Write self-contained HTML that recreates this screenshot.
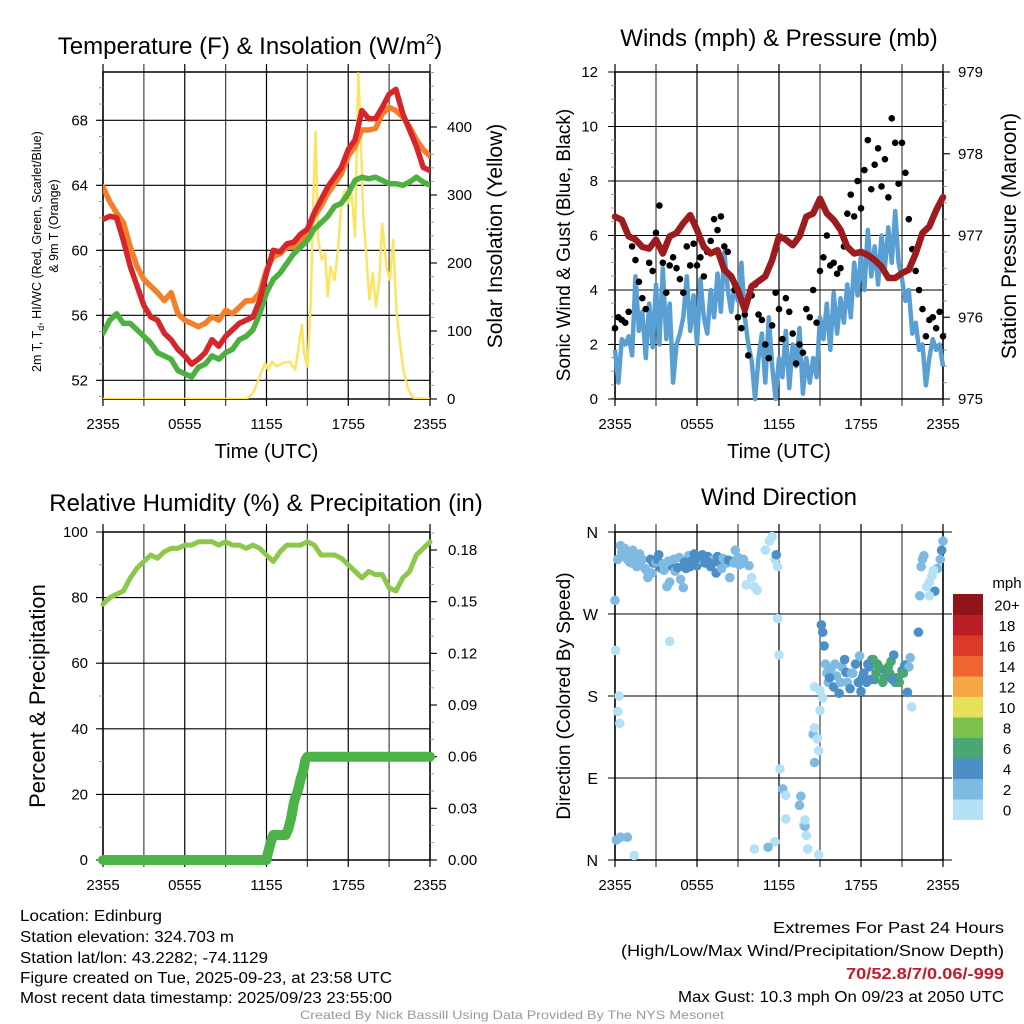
<!DOCTYPE html>
<html><head><meta charset="utf-8"><title>Mesonet Meteogram</title>
<style>
html,body{margin:0;padding:0;background:#fff;}
svg{display:block;font-family:"Liberation Sans",Arial,sans-serif;}
</style></head>
<body>
<svg id="chart" width="1024" height="1024" viewBox="0 0 1024 1024" xmlns="http://www.w3.org/2000/svg">
<rect x="0" y="0" width="1024" height="1024" fill="#fff"/>
<g id="layer"></g>
</svg>
<script>
// ===== DATA (half-hour steps from 2355 UTC) =====
const xTickLabels = ["2355","0555","1155","1755","2355"];
const tempTicks = [52,56,60,64,68];
const solarTicks = [0,100,200,300,400];
const windTicks = [0,2,4,6,8,10,12];
const presTicks = [975,976,977,978,979];
const rhTicks = [0,20,40,60,80,100];
const precipTicks = ["0.00","0.03","0.06","0.09","0.12","0.15","0.18"];
const dirLabels = ["N","E","S","W","N"];
const legendLabels = ["0","2","4","6","8","10","12","14","16","18","20+"];
const legendColors = ["#b5e1f7","#7fbae3","#4b8fc6","#4aa773","#7cc24a","#e6e05a","#f5a845","#ef6530","#db3a2b","#bb1e25","#8f1519"];

const tempRed = [61.9,62.1,62.0,60.6,59.0,57.8,56.6,55.9,55.7,54.9,54.5,53.9,53.5,53.0,53.3,53.7,54.5,54.1,54.7,55.1,55.5,55.7,55.9,56.9,58.6,60.0,59.9,60.4,60.5,61.0,61.3,62.3,63.1,63.9,64.5,65.1,66.2,66.8,68.6,68.1,68.1,68.8,69.6,69.9,68.4,67.4,66.4,65.1,64.9];
const tempOrange = [63.9,63.0,62.3,61.7,60.2,59.0,58.2,57.8,57.4,56.9,57.4,56.1,55.7,55.5,55.3,55.5,55.9,55.7,56.3,56.1,56.5,56.9,56.9,57.4,58.8,59.6,59.8,60.2,60.2,60.6,61.1,62.1,62.7,63.5,64.1,64.7,65.8,66.4,67.4,67.4,67.5,68.4,68.8,68.6,68.2,67.6,66.8,66.2,65.8];
const tempGreen = [54.9,55.7,56.1,55.5,55.5,55.1,54.7,54.3,53.7,53.5,53.3,52.6,52.4,52.2,52.8,53.0,53.5,53.3,53.7,53.9,54.5,54.7,55.1,56.1,57.4,58.2,58.6,59.2,59.8,60.2,60.6,61.3,61.7,62.1,62.7,62.9,63.5,64.3,64.5,64.4,64.5,64.3,64.1,64.1,64.0,64.2,64.5,64.2,64.0];
const solarTimes = [0,10.54,11.03,11.4,11.9,12.1,12.4,12.75,13.2,13.7,14.1,14.3,14.6,14.75,15.0,15.25,15.45,15.6,15.8,16.05,16.3,16.5,16.7,17.0,17.27,17.5,17.75,17.98,18.25,18.5,18.74,18.9,19.1,19.35,19.55,19.8,20.04,20.28,20.5,20.8,21.06,21.3,21.55,21.8,22.04,22.4,22.8,24];
const solarVals = [0,0,9,28,53,43,55,48,53,55,43,68,109,68,48,141,302,393,234,205,214,151,195,175,224,288,307,288,302,239,479,400,273,205,146,185,136,175,258,195,175,234,126,82,43,14,1,0];

const pressure = [977.23,977.19,976.99,976.95,976.86,976.84,976.95,976.78,976.99,977.03,977.15,977.25,977.07,976.86,976.78,976.82,976.58,976.50,976.33,976.09,976.38,976.44,976.50,976.70,976.99,976.95,976.88,976.99,977.23,977.27,977.45,977.27,977.19,977.07,976.86,976.78,976.80,976.76,976.70,976.62,976.48,976.48,976.54,976.58,976.78,977.03,977.11,977.31,977.47];
// quarter-hour steps
const windSpeed = [1.8,0.6,2.2,2.0,2.3,1.6,4.5,2.5,3.2,1.5,3.5,1.9,4.2,2.0,4.8,2.2,3.5,0.6,2.0,2.4,3.0,4.5,2.5,3.8,2.0,4.4,3.0,2.4,4.0,3.0,4.6,3.2,5.4,4.0,3.2,4.2,3.6,5.0,3.0,2.0,1.4,0.0,1.5,2.4,0.6,3.0,1.2,0.0,1.5,0.8,2.5,0.4,2.0,1.2,2.6,0.2,1.5,0.6,1.5,0.8,3.0,2.2,3.5,1.8,3.9,2.4,3.7,2.8,4.2,3.0,5.0,3.8,5.3,4.0,6.2,4.5,5.6,4.2,6.0,4.8,6.3,5.0,6.9,5.0,4.4,3.6,4.0,2.4,2.8,1.8,2.0,0.5,1.5,2.2,1.8,2.0,1.2];
const windGust = [2.6,3.0,2.9,2.8,3.2,5.6,5.1,4.3,3.7,3.3,5.0,4.7,6.1,7.1,5.0,3.9,4.9,5.2,4.8,4.4,3.9,5.6,4.9,5.7,4.9,5.2,4.5,5.4,5.8,6.6,6.2,6.7,5.6,5.4,4.5,4.0,3.0,2.6,3.1,1.6,3.8,4.2,3.1,2.9,2.0,1.5,2.7,3.9,3.3,2.2,3.7,3.2,2.4,1.3,2.0,1.7,3.3,3.0,4.0,2.8,4.7,5.2,6.0,4.9,5.0,4.6,4.8,5.6,6.8,7.5,6.7,8.0,7.0,8.4,9.5,7.7,8.6,9.2,7.8,8.8,7.4,10.3,9.4,7.9,9.4,8.3,6.6,5.5,4.7,4.0,3.3,2.3,2.9,3.0,2.6,3.2,2.3];

const rh = [78,80,81,82,86,89,91,93,92,94,95,95,96,96,97,97,97,96,97,96,96,95,96,95,93,91,94,96,96,96,97,96,93,93,93,92,90,88,86,88,87,87,83,82,86,88,93,95,97];
const precipTimes = [0,12.0,12.1,12.3,12.5,13.4,13.6,13.8,14.0,14.1,14.3,14.5,14.7,14.85,15.0,24];
const precipVals = [0,0,0.004,0.010,0.0145,0.0145,0.018,0.024,0.033,0.036,0.040,0.047,0.052,0.058,0.060,0.060];

const dirTimes = [0,0.2,0.4,0.6,0.8,1,1.1,1.3,1.5,1.7,1.9,2.0,2.2,2.4,2.6,2.8,3.0,3.2,3.4,3.6,3.8,4.0,4.2,4.4,4.6,4.8,5.0,5.2,5.4,5.6,5.8,6.0,6.2,6.4,6.6,6.8,7.0,7.2,7.4,7.6,7.8,8.0,8.2,8.4,8.6,8.8,9.0,9.2,9.4,9.6,9.8,10.0,10.2,10.4,11.0,11.3,11.5,11.7,11.8,11.9,0.05,0.2,0.3,0.35,0.1,0.4,0.9,1.4,4.0,11.9,12.0,12.07,12.27,12.5,12.5,13.5,13.6,13.8,13.9,13.9,14.0,14.1,14.5,14.6,14.8,14.9,14.6,14.6,15.0,15.2,11.7,11.2,10.2,14.9,15.0,15.1,15.2,15.3,15.4,15.5,15.6,15.8,16.0,16.1,16.2,16.4,16.6,16.8,17.0,17.2,17.4,17.6,17.8,18.0,18.2,18.4,18.6,18.8,18.9,19.0,19.2,19.4,19.6,19.8,20.0,20.2,20.4,20.6,20.8,21.0,21.2,21.4,21.5,21.6,21.7,22.2,22.3,22.4,22.5,22.6,22.8,23.0,23.2,23.4,23.6,23.8,23.9,24,23.0,23.3,19.3,19.7,20.1,20.5,18.7,17.9,16.9,15.7,0.5,0.7,0.9,1.2,1.6,1.8,2.3,2.7,3.1,3.5,3.9,4.3,4.7,5.1,5.5,5.9,6.3,6.7,7.1,7.5,7.9,8.3,8.7,9.1,16.5,17.3,18.1,18.5,19.1,20.3,21.1];
const dirDeg = [285,330,345,340,332,335,327,340,333,325,328,330,320,310,330,326,327,335,320,318,300,305,322,317,321,308,299,320,334,328,336,323,330,335,326,333,322,330,315,327,320,330,326,310,328,340,332,325,330,302,323,310,300,296,340,350,355,330,335,322,230,163,180,150,22,25,25,5,240,265,225,100,78,71,45,60,70,38,37,44,27,12,138,145,133,120,107,190,164,178,20,14,12,6,186,258,250,235,215,205,195,210,190,215,202,183,212,220,195,188,205,215,195,185,205,195,212,220,220,198,215,210,195,208,212,218,225,200,195,208,214,184,212,222,168,250,290,322,330,334,300,305,312,295,320,330,340,350,290,318,212,200,205,195,198,224,206,200,338,342,330,326,322,336,318,315,330,325,328,330,332,327,322,330,334,328,325,333,331,329,326,324,195,205,200,215,205,198,205];
const dirSpeed = [2,3,3,2,3,2,4,3,3,2,3,3,2,2,4,4,3,4,4,3,2,2,4,2,4,2,2,4,3,4,4,4,3,4,4,4,4,3,4,4,3,4,2,2,2,2,2,2,3,1,2,1,1,0,0,0,0,1,4,1,0,1,1,0,2,2,2,0,0,0,0,0,2,0,0,2,2,1,3,1,0,0,2,0,1,0,3,0,0,0,0,2,0,0,1,4,4,4,2,2,2,2,4,2,2,4,2,4,2,4,2,4,4,4,4,4,4,4,6,6,6,6,6,4,6,6,4,6,6,4,4,4,2,2,0,4,2,2,2,2,0,0,1,4,2,2,4,2,0,0,6,6,6,6,4,2,4,4,2,2,2,2,2,2,2,2,4,2,2,3,2,4,4,4,4,4,4,4,2,4,2,2,2,2,4,4,6,4,6];

// ===== helpers =====
const NS = "http://www.w3.org/2000/svg";
const layer = document.getElementById("layer");
function mk(tag, attrs, parent){
  const e = document.createElementNS(NS, tag);
  for (const k in attrs) e.setAttribute(k, attrs[k]);
  (parent||layer).appendChild(e);
  return e;
}
function txt(s, x, y, size, opts, parent){
  opts = opts||{};
  const e = mk("text", {x:x, y:y, "font-size":size, fill:opts.fill||"#000", "text-anchor":opts.anchor||"start"}, parent);
  if (opts.rot) e.setAttribute("transform", "rotate(-90 "+x+" "+y+")");
  if (opts.weight) e.setAttribute("font-weight", opts.weight);
  if (opts.len) { e.setAttribute("textLength", opts.len); e.setAttribute("lengthAdjust","spacingAndGlyphs"); }
  e.textContent = s;
  return e;
}
function lin(d0,d1,r0,r1){ return v => r0 + (v-d0)/(d1-d0)*(r1-r0); }
function pathFrom(xs, ys){ let d=""; for(let i=0;i<xs.length;i++){ d += (i?"L":"M")+xs[i].toFixed(1)+" "+ys[i].toFixed(1);} return d; }

function panelFrame(g, L, R, T, B, nameBase){
  const xs = lin(0,24,L,R);
  for (let h=0; h<=24; h+=3){
    const l = mk("line",{x1:xs(h),x2:xs(h),y1:T-8,y2:B+7,stroke:(h%6==0?"#000":"#444"),"stroke-width":1.2},g);
    
    
  }
  const f = mk("rect",{x:L,y:T,width:R-L,height:B-T,fill:"none",stroke:"#000","stroke-width":1.5},g);
  
  
  xTickLabels.forEach((lab,i)=>{
    const t = txt(lab, xs(i*6), B+30, 15, {anchor:"middle"}, g);
    
    
  });
  return xs;
}
function hGrid(g, L, R, y, ticksOut){
  const l = mk("line",{x1:L-7,x2:R+(ticksOut?7:0),y1:y,y2:y,stroke:"#000","stroke-width":1.1},g);
  
  
}
function minorTicks(g, x, y0, y1, step, dir){
  for (let y=y0; y<=y1+0.1; y+=step){
    mk("line",{x1:x,x2:x+dir*4,y1:y,y2:y,stroke:"#999","stroke-width":1},g);
  }
}

// ===== Panel 1: Temperature & Insolation =====
(function(){
  const g = mk("g",{});
  
  
  const L=103,R=430,T=72,B=399;
  const t = txt("Temperature (F) & Insolation (W/m", 250, 54, 24, {anchor:"middle"}, g);
  
  
  const sup = mk("tspan",{dy:-10,"font-size":15},t); sup.textContent="2";
  const cl = mk("tspan",{dy:10},t); cl.textContent=")";
  const xs = panelFrame(g,L,R,T,B,"temperature");
  const ys = lin(68,52,120.3,380.3);
  const ysol = lin(0,400,399,127);
  minorTicks(g,L,ys(70),ys(51),16.25,-1);
  minorTicks(g,R,ysol(480),B,13.6,1);
  tempTicks.forEach(v=>{
    hGrid(g,L,R,ys(v),false);
    const lb = txt(String(v), L-15, ys(v)+5, 15, {anchor:"end"}, g);
    
    
  });
  solarTicks.forEach(v=>{
    mk("line",{x1:R,x2:R+7,y1:ysol(v),y2:ysol(v),stroke:"#000","stroke-width":1.1},g);
    const lb = txt(String(v), R+17, ysol(v)+5, 15, {}, g);
    
    
  });
  const clip = mk("clipPath",{id:"c1"},g); mk("rect",{x:L,y:T-2,width:R-L,height:B-T+2},clip);
  const sl = mk("path",{d:pathFrom(solarTimes.map(xs), solarVals.map(v=>ysol(v))),fill:"none",stroke:"#fde35e","stroke-width":2.4,"stroke-linejoin":"round","clip-path":"url(#c1)"},g);
  
  
  const series = [[tempOrange,"#f47f2a","orange-9m-temp-line"],[tempGreen,"#4cb140","green-dewpoint-line"],[tempRed,"#d7262b","red-2m-temp-line"]];
  series.forEach(s=>{
    const p = mk("path",{d:pathFrom(s[0].map((v,i)=>xs(i*0.5)), s[0].map(ys)),fill:"none",stroke:s[1],"stroke-width":5.5,"stroke-linejoin":"round","stroke-linecap":"round","clip-path":"url(#c1)"},g);
    
    
  });
  const a1 = txt("Time (UTC)", (L+R)/2, 458, 20, {anchor:"middle"}, g);
  
  
  const a2 = txt("2m T, T", 0, 0, 12.5, {}, g);
  a2.setAttribute("transform","translate(41 372) rotate(-90)");
  const sb = mk("tspan",{dy:3,"font-size":9},a2); sb.textContent="d";
  const rest = mk("tspan",{dy:-3},a2); rest.textContent=", HI/WC (Red, Green, Scarlet/Blue)";
  
  
  const a3 = txt("& 9m T (Orange)", 58, 226, 12.5, {anchor:"middle",rot:true}, g);
  
  
  const a4 = txt("Solar Insolation (Yellow)", 502, 236, 21, {anchor:"middle",rot:true}, g);
  
  
})();

// ===== Panel 2: Winds & Pressure =====
(function(){
  const g = mk("g",{});
  
  
  const L=615,R=943,T=72,B=399;
  const t = txt("Winds (mph) & Pressure (mb)", 779, 46, 24, {anchor:"middle"}, g);
  
  
  const xs = panelFrame(g,L,R,T,B,"winds");
  const yw = lin(0,12,B,T);
  const yp = lin(975,979,B,T);
  minorTicks(g,L,T,B,13.6,-1);
  minorTicks(g,R,T,B,16.35,1);
  windTicks.forEach(v=>{
    hGrid(g,L,R,yw(v),false);
    const lb = txt(String(v), L-17, yw(v)+5, 15, {anchor:"end"}, g);
    
    
  });
  presTicks.forEach(v=>{
    mk("line",{x1:R,x2:R+7,y1:yp(v),y2:yp(v),stroke:"#000","stroke-width":1.1},g);
    const lb = txt(String(v), R+15, yp(v)+5, 15, {}, g);
    
    
  });
  const wl = mk("path",{d:pathFrom(windSpeed.map((v,i)=>xs(i*0.25)), windSpeed.map(yw)),fill:"none",stroke:"#5a9fd4","stroke-width":4.5,"stroke-linejoin":"round"},g);
  
  
  windGust.forEach((v,i)=>{
    const c = mk("circle",{cx:xs(i*0.25),cy:yw(v),r:3.3,fill:"#000"},g);
    
    
  });
  const pl = mk("path",{d:pathFrom(pressure.map((v,i)=>xs(i*0.5)), pressure.map(yp)),fill:"none",stroke:"#9b1b1e","stroke-width":6.5,"stroke-linejoin":"round","stroke-linecap":"round"},g);
  
  
  const a1 = txt("Time (UTC)", (L+R)/2, 458, 20, {anchor:"middle"}, g);
  
  
  const a2 = txt("Sonic Wind & Gust (Blue, Black)", 570, 245, 19, {anchor:"middle",rot:true}, g);
  
  
  const a3 = txt("Station Pressure (Maroon)", 1016, 236, 21, {anchor:"middle",rot:true}, g);
  
  
})();

// ===== Panel 3: RH & Precip =====
(function(){
  const g = mk("g",{});
  
  
  const L=103,R=430,T=532,B=860;
  const t = txt("Relative Humidity (%) & Precipitation (in)", 266, 511, 24, {anchor:"middle"}, g);
  
  
  const xs = panelFrame(g,L,R,T,B,"humidity");
  const yr = lin(0,100,B,T);
  const ypr = lin(0,0.18,B,550);
  minorTicks(g,L,T,B,32.8,-1);
  minorTicks(g,R,T+1,B,17.2,1);
  rhTicks.forEach(v=>{
    hGrid(g,L,R,yr(v),false);
    const lb = txt(String(v), L-15, yr(v)+5, 15, {anchor:"end"}, g);
    
    
  });
  precipTicks.forEach(s=>{
    const v = parseFloat(s);
    mk("line",{x1:R,x2:R+7,y1:ypr(v),y2:ypr(v),stroke:"#000","stroke-width":1.1},g);
    const lb = txt(s, R+18, ypr(v)+5, 15, {}, g);
    
    
  });
  const rl = mk("path",{d:pathFrom(rh.map((v,i)=>xs(i*0.5)), rh.map(yr)),fill:"none",stroke:"#8cc84b","stroke-width":5,"stroke-linejoin":"round","stroke-linecap":"round"},g);
  
  
  const pp = mk("path",{d:pathFrom(precipTimes.map(xs), precipVals.map(ypr)),fill:"none",stroke:"#4cb347","stroke-width":10,"stroke-linejoin":"round","stroke-linecap":"round"},g);
  
  
  const a2 = txt("Percent & Precipitation", 45, 696, 22, {anchor:"middle",rot:true}, g);
  
  
})();

// ===== Panel 4: Wind Direction =====
(function(){
  const g = mk("g",{});
  
  
  const L=615,R=943,T=532,B=860;
  const t = txt("Wind Direction", 779, 505, 24, {anchor:"middle"}, g);
  
  
  const xs = panelFrame(g,L,R,T,B,"wind-direction");
  const yd = lin(0,360,B,T);
  dirLabels.forEach((lab,i)=>{
    const y = yd(i*90);
    const l = mk("line",{x1:L-7,x2:R+9,y1:y,y2:y,stroke:"#000","stroke-width":1.1},g);
    
    
    const lb = txt(lab, L-17, y+6, 16, {anchor:"end"}, g);
    
    
  });
  dirTimes.forEach((h,i)=>{
    const ci = Math.min(10, Math.floor(dirSpeed[i]/2));
    const c = mk("circle",{cx:xs(h),cy:yd(dirDeg[i]),r:4.8,fill:legendColors[ci]},g);
    
    
  });
  const a2 = txt("Direction (Colored By Speed)", 570, 696, 19, {anchor:"middle",rot:true}, g);
  
  
  const lg = mk("g",{},g);
  
  
  const mt = txt("mph", 1007, 588, 15, {anchor:"middle"}, lg);
  
  
  const top=594, bh=20.5;
  legendLabels.forEach((lab,i)=>{
    const k = legendLabels.length-1-i;
    const y = top + k*bh;
    const r = mk("rect",{x:953,y:y,width:30,height:bh+0.5,fill:legendColors[i]},lg);
    
    
    const tl = txt(lab, 1007, y+bh/2+6, 15, {anchor:"middle"}, lg);
    
    
  });
})();

// ===== Footer =====
(function(){
  const g = mk("g",{});
  
  
  const left = [["Location: Edinburg",921,142],["Station elevation: 324.703 m",942,214],["Station lat/lon: 43.2282; -74.1129",963,248],["Figure created on Tue, 2025-09-23, at 23:58 UTC",983,372],["Most recent data timestamp: 2025/09/23 23:55:00",1003,372]];
  left.forEach(l=>{
    const t = txt(l[0], 20, l[1], 15.5, {len:l[2]}, g);
    
    
  });
  const r1 = txt("Extremes For Past 24 Hours", 1004, 933, 16, {anchor:"end",len:231}, g);
  
  
  const r2 = txt("(High/Low/Max Wind/Precipitation/Snow Depth)", 1004, 956, 16, {anchor:"end",len:383}, g);
  
  
  const r3 = txt("70/52.8/7/0.06/-999", 1004, 979, 16, {anchor:"end",fill:"#c8192a",weight:"bold",len:158}, g);
  
  
  const r4 = txt("Max Gust: 10.3 mph On 09/23 at 2050 UTC", 1004, 1002, 15.5, {anchor:"end",len:326}, g);
  
  
  const c = txt("Created By Nick Bassill Using Data Provided By The NYS Mesonet", 512, 1019, 12, {anchor:"middle",fill:"#999",len:424}, g);
  
  
})();
</script>
</body></html>
